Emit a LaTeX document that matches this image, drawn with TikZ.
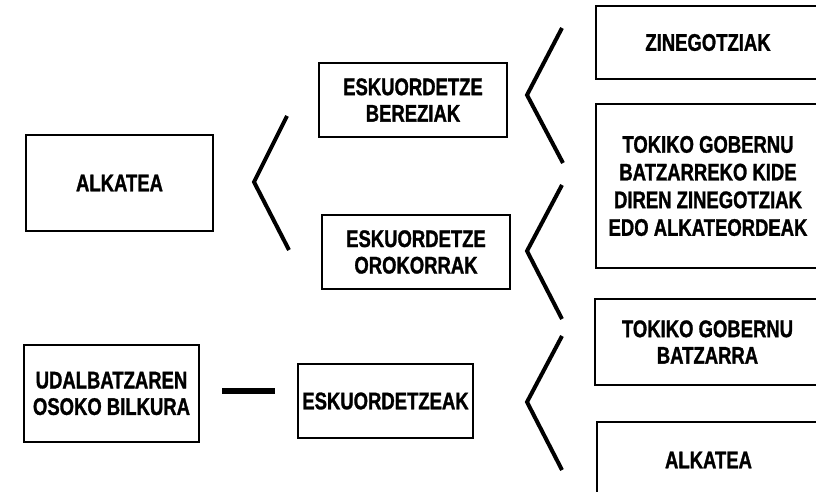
\documentclass[tikz,border=0pt]{standalone}
\usepackage{fontspec}
\newfontfamily\boxfont{Liberation Sans Bold}[FakeStretch=0.77,FakeBold=1.2]
\begin{document}
\begin{tikzpicture}[x=1pt,y=-1pt,
  box/.style={draw,line width=2.2pt,inner sep=0pt,align=center,
    font=\fontsize{24}{26.5}\boxfont},
  brace/.style={line width=4pt,line join=miter},
  bar/.style={line width=6pt}]
\useasboundingbox (0,0) rectangle (816,492);
\clip (0,0) rectangle (816,492);

% left column
\node[box,minimum width=187pt,minimum height=96pt] (alk) at (119.5,183) {ALKATEA};
\node[box,minimum width=175pt,minimum height=97pt] (uda) at (111.5,393.5) {UDALBATZAREN\\OSOKO BILKURA};

% middle column
\node[box,minimum width=188pt,minimum height=74pt] (ber) at (413,100) {ESKUORDETZE\\BEREZIAK};
\node[box,minimum width=188pt,minimum height=74pt] (oro) at (416,252) {ESKUORDETZE\\OROKORRAK};
\node[box,minimum width=175pt,minimum height=74pt] (esk) at (385.5,401) {ESKUORDETZEAK};

% right column (runs past the page edge)
\node[box,minimum width=224pt,minimum height=73pt] (zin) at (708,42.5) {ZINEGOTZIAK};
\node[box,minimum width=224pt,minimum height=164pt,font=\fontsize{24}{27.7}\boxfont] (tok) at (708,186) {TOKIKO GOBERNU\\BATZARREKO KIDE\\DIREN ZINEGOTZIAK\\EDO ALKATEORDEAK};
\node[box,minimum width=225pt,minimum height=86pt] (bat) at (707.5,342) {TOKIKO GOBERNU\\BATZARRA};
\node[box,minimum width=223pt,minimum height=76pt] (alkb) at (708.5,460) {ALKATEA};

% angle brackets
\coordinate (b1t) at (287,116); \coordinate (b1v) at (254,182); \coordinate (b1b) at (289,250);
\coordinate (b2t) at (562,28);  \coordinate (b2v) at (527,95);  \coordinate (b2b) at (563,163);
\coordinate (b3t) at (562,185); \coordinate (b3v) at (527,251); \coordinate (b3b) at (562,319);
\coordinate (b4t) at (562,336); \coordinate (b4v) at (527,402); \coordinate (b4b) at (562,470);
\draw[brace] (b1t) -- (b1v) -- (b1b);
\draw[brace] (b2t) -- (b2v) -- (b2b);
\draw[brace] (b3t) -- (b3v) -- (b3b);
\draw[brace] (b4t) -- (b4v) -- (b4b);

% link between the plenary and its delegations
\coordinate (d1) at (222,391); \coordinate (d2) at (275,391);
\draw[bar] (d1) -- (d2);
\end{tikzpicture}
\end{document}
